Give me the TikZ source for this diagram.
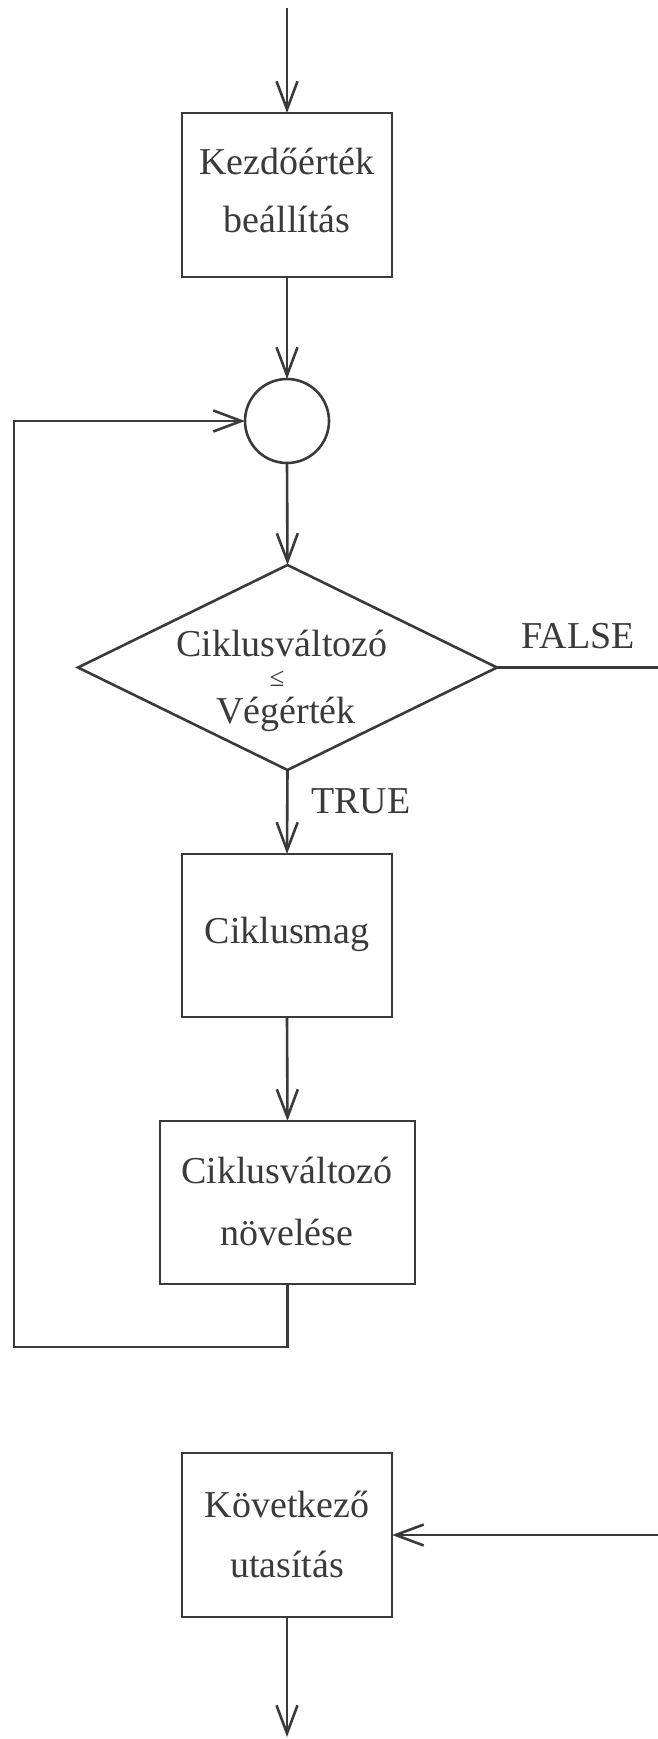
\documentclass[tikz,border=0pt]{standalone}
\usepackage{fontspec}
\setmainfont{Liberation Serif}
\usetikzlibrary{arrows.meta,shapes.geometric}
\definecolor{ink}{HTML}{3A3A3A}
\begin{document}
\begin{tikzpicture}[x=1pt,y=-1pt,
  line/.style={draw=ink, line width=2.6pt},
  flow/.style={line, -{Straight Barb[length=28pt,width=21pt]}},
  stepbox/.style={draw=ink, line width=2.6pt, rectangle, inner sep=0pt, outer sep=0pt,
                  minimum width=210pt, minimum height=164pt},
  txt/.style={font=\fontsize{38}{46}\selectfont, text=ink, inner sep=0pt, anchor=base},
  small/.style={font=\fontsize{27}{30}\selectfont, text=ink, inner sep=0pt}]
\useasboundingbox (0,0) rectangle (658,1739);

% blocks
\node[stepbox] (init) at (287,195) {};
\node[txt] (initA) at (287,175) {Kezdőérték};
\node[txt] (initB) at (287,233) {beállítás};

\node[circle, draw=ink, line width=2.6pt, minimum size=84pt, inner sep=0pt, outer sep=0pt] (join) at (287,421) {};

\node[diamond, draw=ink, line width=2.6pt, minimum width=419pt, minimum height=205pt,
      inner sep=0pt, outer sep=0pt] (cond) at (287.5,667.5) {};
\node[txt] (condA) at (282,656) {Ciklusváltozó};
\node[small] (condB) at (277,679) {≤};
\node[txt] (condC) at (286,723) {Végérték};

\node[stepbox, minimum height=163pt] (body) at (287,935.5) {};
\node[txt] (bodyA) at (287,943) {Ciklusmag};

\node[stepbox, minimum width=255pt, minimum height=163pt] (incr) at (287.5,1202.5) {};
\node[txt] (incrA) at (287,1183) {Ciklusváltozó};
\node[txt] (incrB) at (287,1245) {növelése};

\node[stepbox] (next) at (287,1535) {};
\node[txt] (nextA) at (287,1517) {Következő};
\node[txt] (nextB) at (287,1577) {utasítás};

% branch labels
\node[txt] (false) at (578,648) {FALSE};
\node[txt] (true) at (361,813) {TRUE};

% free ends
\coordinate (start) at (287,8);
\coordinate (stop) at (287,1737);
\coordinate (fout) at (658,667.5);
\coordinate (fin) at (658,1535);
\coordinate (lb) at (14,1347);

% connectors
\draw[flow] (start) -- (init.north);
\draw[flow] (init.south) -- (join.north);
\draw[flow] (join.south) -- (cond.north);
\draw[flow] (cond.south) -- (body.north);
\draw[flow] (body.south) -- (incr.north);
\draw[flow] (incr.south) |- (lb) |- (join.west);
\draw[line] (cond.east) -- (fout);
\draw[flow] (fin) -- (next.east);
\draw[flow] (next.south) -- (stop);
\end{tikzpicture}
\end{document}
